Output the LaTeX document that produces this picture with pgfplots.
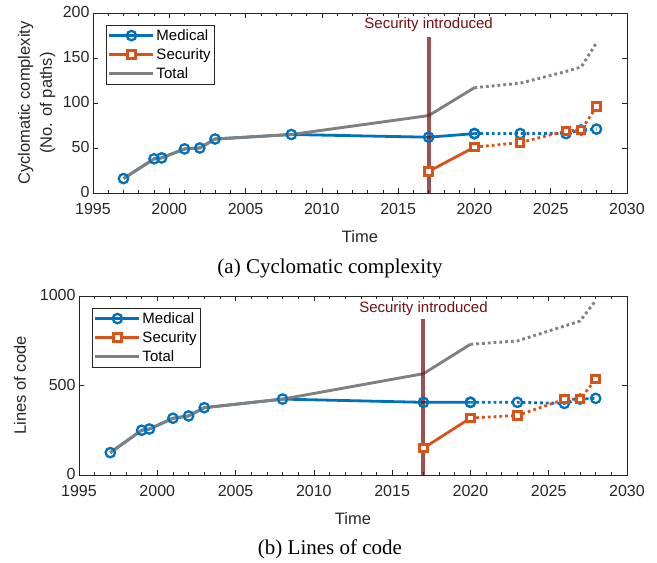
\documentclass[border=0pt]{standalone}
\usepackage{fontspec}
\setmainfont{Liberation Sans}
\newfontfamily\capfont{Liberation Serif}
\usepackage{pgfplots}
\pgfplotsset{compat=1.18}

\definecolor{mblue}{RGB}{0,114,189}
\definecolor{morange}{RGB}{217,83,25}
\definecolor{mgray}{RGB}{128,128,128}
\definecolor{mred}{RGB}{115,15,15}
\definecolor{axcol}{RGB}{38,38,38}

\pgfplotsset{
  myaxis/.style={
    scale only axis,
    xmin=1995, xmax=2030,
    xtick={1995,2000,...,2030},
    minor x tick num=4,
    tick align=inside,
    major tick length=5pt, minor tick length=3pt,
    axis line style={line width=0.7pt, color=axcol},
    every tick/.style={axcol, line width=0.6pt},
    ticklabel style={font=\fontsize{16}{19}\selectfont, text=axcol},
    xticklabel style={yshift=-6.5pt},
    yticklabel style={yshift=1pt},
    /pgf/number format/1000 sep={},
    /pgf/number format/assume math mode=true,
    label style={font=\fontsize{16.5}{22}\selectfont, text=axcol},
    xlabel={Time},
    xlabel style={at={(axis description cs:0.5,0)}, anchor=center, yshift=-44pt},
    legend cell align=left,
    legend style={at={(0,1)}, anchor=north west, xshift=12.7pt, yshift=-12pt,
      draw=axcol, line width=0.6pt, fill=white,
      font=\fontsize{15}{18}\selectfont, text=black,
      inner xsep=2pt, inner ysep=2.5pt, row sep=3.5pt,
      nodes={inner sep=1.6pt}},
    legend image code/.code={%
      \draw[mark repeat=2,mark phase=2,##1] plot coordinates {(0pt,0pt) (22pt,0pt) (44pt,0pt)};},
  },
  med/.style={mblue, line width=2.8pt, mark=o, mark size=4.7pt, mark options={solid, line width=2.3pt, fill=white}},
  sec/.style={morange, line width=2.8pt, mark=square*, mark size=3.7pt, mark options={solid, line width=3pt, fill=white}},
  tot/.style={mgray, line width=2.9pt},
  dotd/.style={dash pattern=on 2.8pt off 3pt},
}

\begin{document}
\begin{tikzpicture}
\useasboundingbox (0pt,0pt) rectangle (657pt,563pt);

% ---------- (a) Cyclomatic complexity ----------
\begin{axis}[myaxis,
  at={(93pt,370pt)}, anchor=south west,
  width=534pt, height=180pt,
  ymin=0, ymax=200, ytick={0,50,...,200},
  ylabel={\begin{tabular}{@{}c@{}}Cyclomatic complexity\\(No. of paths)\end{tabular}},
  ylabel style={at={(axis description cs:-0.106,0.5)}, anchor=center},
]
\addplot[med] coordinates {(1997,16) (1999,38) (1999.5,39) (2001,49) (2002,50) (2003,60) (2008,65) (2017,62) (2020,66)};
\addlegendentry{Medical}
\addplot[sec] coordinates {(2017,24) (2020,51)};
\addlegendentry{Security}
\addplot[tot] coordinates {(1997,16) (1999,38) (1999.5,39) (2001,49) (2002,50) (2003,60) (2008,65) (2017,86) (2020,117)};
\addlegendentry{Total}
\addplot[med, dotd, forget plot] coordinates {(2020,66) (2023,66) (2026,66) (2027,70) (2028,71)};
\addplot[sec, dotd, forget plot] coordinates {(2020,51) (2023,56) (2026,69) (2027,70) (2028,96)};
\addplot[tot, dotd, forget plot] coordinates {(2020,117) (2023,122) (2026,135) (2027,140) (2028,167)};
\addplot[mred, opacity=0.72, line width=4pt, forget plot] coordinates {(2017,0) (2017,173)};
\node[text=mred, font=\fontsize{15}{18}\selectfont] at (axis cs:2017,187) {Security introduced};
\end{axis}

% ---------- (b) Lines of code ----------
\begin{axis}[myaxis,
  at={(79pt,88pt)}, anchor=south west,
  width=548pt, height=179pt,
  ymin=0, ymax=1000, ytick={0,500,1000},
  ylabel={Lines of code},
  ylabel style={at={(axis description cs:-0.1077,0.5)}, anchor=center},
]
\addplot[med] coordinates {(1997,125) (1999,250) (1999.5,257) (2001,317) (2002,330) (2003,376) (2008,424) (2017,406) (2020,406)};
\addlegendentry{Medical}
\addplot[sec] coordinates {(2017,150) (2020,318)};
\addlegendentry{Security}
\addplot[tot] coordinates {(1997,125) (1999,250) (1999.5,257) (2001,317) (2002,330) (2003,376) (2008,424) (2017,566) (2020,730)};
\addlegendentry{Total}
\addplot[med, dotd, forget plot] coordinates {(2020,406) (2023,406) (2026,400) (2027,424) (2028,428)};
\addplot[sec, dotd, forget plot] coordinates {(2020,318) (2023,333) (2026,423) (2027,423) (2028,535)};
\addplot[tot, dotd, forget plot] coordinates {(2020,730) (2023,749) (2026,832) (2027,860) (2028,975)};
\addplot[mred, opacity=0.72, line width=4pt, forget plot] coordinates {(2017,0) (2017,870)};
\node[text=mred, font=\fontsize{15}{18}\selectfont] at (axis cs:2017,931) {Security introduced};
\end{axis}

\node[font=\capfont\fontsize{21}{25}\selectfont, text=black] at (330pt,295pt) {(a) Cyclomatic complexity};
\node[font=\capfont\fontsize{21}{25}\selectfont, text=black] at (330pt,14pt) {(b) Lines of code};
\end{tikzpicture}
\end{document}
